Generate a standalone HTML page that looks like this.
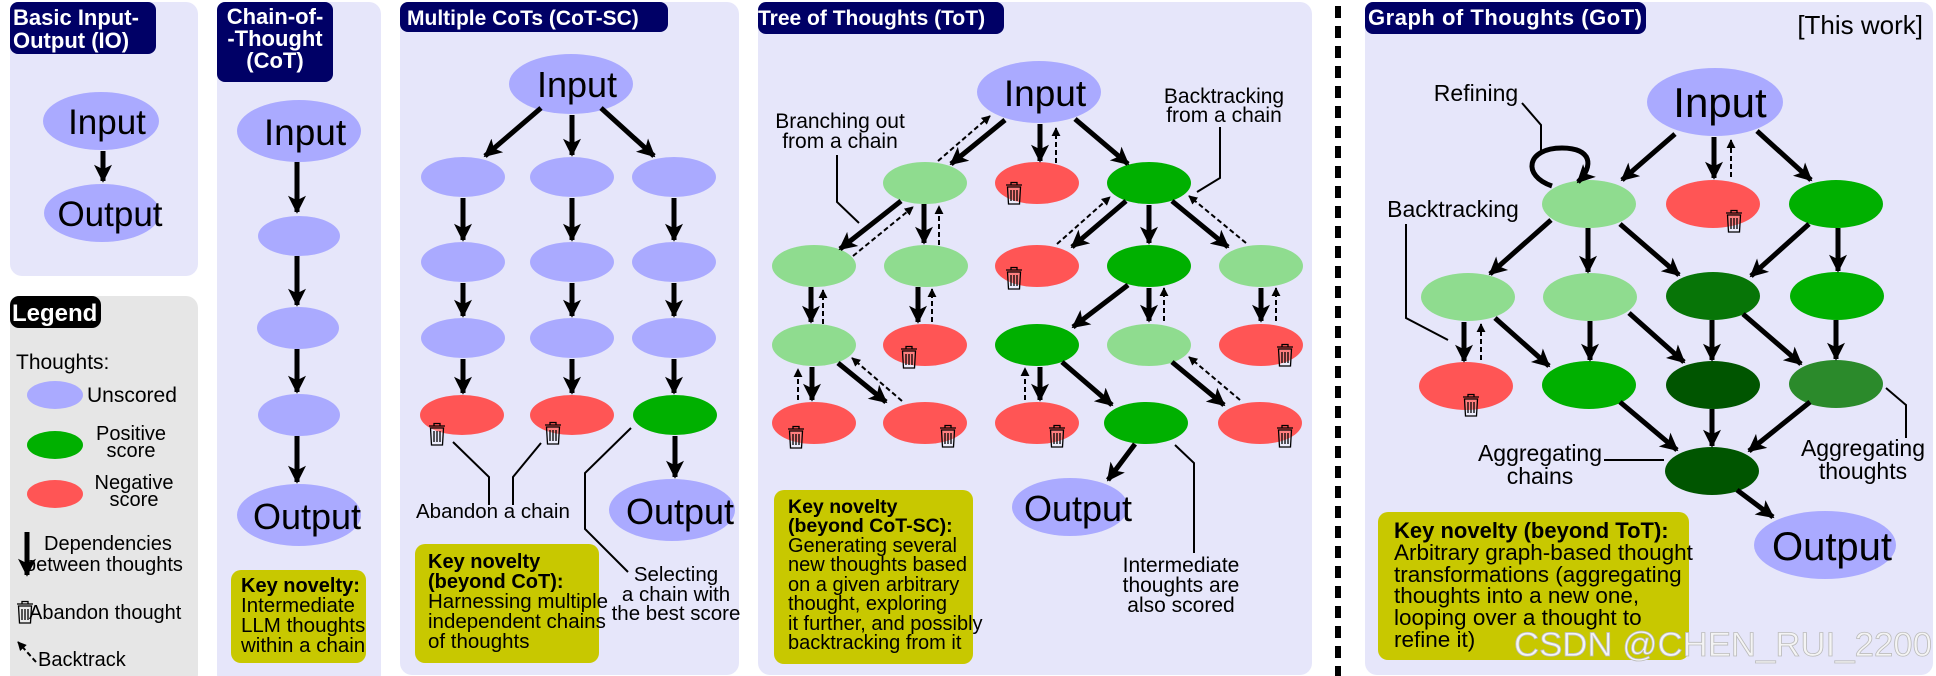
<!DOCTYPE html>
<html><head><meta charset="utf-8"><style>
html,body{margin:0;padding:0;background:#fff}
svg{display:block}
text{font-family:"Liberation Sans",sans-serif;fill:#000}
.s{stroke:#000;stroke-width:5;fill:none;marker-end:url(#ah)}
.b{stroke:#000;stroke-width:2;stroke-dasharray:5,3;fill:none;marker-end:url(#sh)}
.l{stroke:#000;stroke-width:2;fill:none}
.U{fill:#aaaaff}.LG{fill:#8fdc8f}.G{fill:#00b000}.R{fill:#ff5555}
.bold{font-weight:bold}
</style></head><body>
<svg width="1936" height="676" viewBox="0 0 1936 676" xmlns="http://www.w3.org/2000/svg">
<defs>
<marker id="ah" markerUnits="userSpaceOnUse" markerWidth="20" markerHeight="18" viewBox="0 0 10 10" refX="9" refY="5" orient="auto"><path d="M0,0 L10,5 L0,10 L2.5,5 z" fill="#000"/></marker>
<marker id="sh" markerUnits="userSpaceOnUse" markerWidth="9" markerHeight="9" viewBox="0 0 10 10" refX="9" refY="5" orient="auto"><path d="M0,0 L10,5 L0,10 z" fill="#000"/></marker>
<g id="tr" fill="none" stroke="#000" stroke-width="1.3"><path d="M-8,-8 H8 M-3,-8 V-10.5 H3 V-8"/><path d="M-6.5,-6 L-5.5,11 H5.5 L6.5,-6 z" fill="rgba(255,255,255,0.25)"/><path d="M-3,-3 V8 M0,-3 V8 M3,-3 V8"/></g>
</defs>

<!-- panels -->
<rect x="10" y="2" width="188" height="274" rx="12" fill="#e6e6fa"/>
<rect x="10" y="296" width="188" height="390" rx="12" fill="#e6e6e6"/>
<rect x="217" y="2" width="164" height="684" rx="12" fill="#e6e6fa"/>
<rect x="400" y="2" width="339" height="673" rx="12" fill="#e6e6fa"/>
<rect x="758" y="2" width="554" height="673" rx="12" fill="#e6e6fa"/>
<rect x="1365" y="2" width="568" height="673" rx="12" fill="#e6e6fa"/>
<line x1="1338" y1="6" x2="1338" y2="676" stroke="#000" stroke-width="6" stroke-dasharray="12,8"/>

<!-- titles -->
<rect x="10" y="2" width="146" height="52" rx="8" fill="#000066"/>
<text x="13" y="25" class="bold" font-size="22" style="fill:#fff">Basic Input-</text>
<text x="13" y="48" class="bold" font-size="22" style="fill:#fff">Output (IO)</text>
<rect x="217" y="2" width="116" height="80" rx="8" fill="#000066"/>
<text x="275" y="24" class="bold" font-size="22" text-anchor="middle" style="fill:#fff">Chain-of-</text>
<text x="275" y="46" class="bold" font-size="22" text-anchor="middle" style="fill:#fff">-Thought</text>
<text x="275" y="68" class="bold" font-size="22" text-anchor="middle" style="fill:#fff">(CoT)</text>
<rect x="400" y="2" width="268" height="30" rx="8" fill="#000066"/>
<text x="407" y="25" class="bold" font-size="21" style="fill:#fff">Multiple CoTs (CoT-SC)</text>
<rect x="758" y="2" width="246" height="32" rx="8" fill="#000066"/>
<text x="758" y="25" class="bold" font-size="21" style="fill:#fff">Tree of Thoughts (ToT)</text>
<rect x="1365" y="2" width="281" height="32" rx="8" fill="#000066"/>
<text x="1368" y="25" class="bold" font-size="22" style="fill:#fff" textLength="274">Graph of Thoughts (GoT)</text>
<text x="1923" y="34" font-size="26" text-anchor="end">[This work]</text>

<!-- IO -->
<ellipse cx="101" cy="121" rx="58" ry="29" class="U"/>
<text x="107" y="134" font-size="35" text-anchor="middle">Input</text>
<line x1="103" y1="151" x2="103" y2="181" class="s"/>
<ellipse cx="102" cy="213" rx="58" ry="29" class="U"/>
<text x="110" y="226" font-size="35" text-anchor="middle">Output</text>

<!-- Legend -->
<rect x="10" y="296" width="91" height="32" rx="9" fill="#000"/>
<text x="12" y="321" class="bold" font-size="24" style="fill:#fff">Legend</text>
<text x="16" y="369" font-size="21">Thoughts:</text>
<ellipse cx="55" cy="395" rx="28" ry="14" class="U"/>
<text x="87" y="402" font-size="21">Unscored</text>
<ellipse cx="55" cy="445" rx="28" ry="14" class="G"/>
<text x="131" y="440" font-size="20" text-anchor="middle">Positive</text>
<text x="131" y="457" font-size="20" text-anchor="middle">score</text>
<ellipse cx="55" cy="494" rx="28" ry="14" class="R"/>
<text x="134" y="489" font-size="20" text-anchor="middle">Negative</text>
<text x="134" y="506" font-size="20" text-anchor="middle">score</text>
<line x1="27" y1="532" x2="27" y2="575" class="s"/>
<text x="44" y="550" font-size="20">Dependencies</text>
<text x="25" y="571" font-size="20">between thoughts</text>
<use href="#tr" x="25" y="612"/>
<text x="29" y="619" font-size="20">Abandon thought</text>
<line x1="36" y1="662" x2="18" y2="642" class="b"/>
<text x="38" y="666" font-size="20">Backtrack</text>

<!-- CoT -->
<ellipse cx="299" cy="131" rx="62" ry="31" class="U"/>
<text x="305" y="145" font-size="37" text-anchor="middle">Input</text>
<line x1="297" y1="162" x2="297" y2="212" class="s"/>
<ellipse cx="299" cy="236" rx="41" ry="20" class="U"/>
<line x1="297" y1="256" x2="297" y2="305" class="s"/>
<ellipse cx="298" cy="328" rx="41" ry="21" class="U"/>
<line x1="297" y1="349" x2="297" y2="392" class="s"/>
<ellipse cx="299" cy="415" rx="41" ry="21" class="U"/>
<line x1="297" y1="436" x2="297" y2="482" class="s"/>
<ellipse cx="299" cy="515" rx="62" ry="31" class="U"/>
<text x="307" y="529" font-size="36" text-anchor="middle">Output</text>
<rect x="231" y="570" width="135" height="93" rx="10" fill="#c8c800"/>
<text x="241" y="592" class="bold" font-size="20">Key novelty:</text>
<text x="241" y="612" font-size="20.5">Intermediate</text>
<text x="241" y="632" font-size="20.5">LLM thoughts</text>
<text x="241" y="652" font-size="20.5">within a chain</text>

<!-- CoT-SC -->
<ellipse cx="571" cy="84" rx="62" ry="30" class="U"/>
<text x="577" y="97" font-size="36" text-anchor="middle">Input</text>
<line x1="541" y1="108" x2="485" y2="156" class="s"/>
<line x1="572" y1="115" x2="572" y2="155" class="s"/>
<line x1="601" y1="108" x2="654" y2="156" class="s"/>
<g class="U">
<ellipse cx="463" cy="177" rx="42" ry="20"/><ellipse cx="572" cy="177" rx="42" ry="20"/><ellipse cx="674" cy="177" rx="42" ry="20"/>
<ellipse cx="463" cy="262" rx="42" ry="20"/><ellipse cx="572" cy="262" rx="42" ry="20"/><ellipse cx="674" cy="262" rx="42" ry="20"/>
<ellipse cx="463" cy="338" rx="42" ry="20"/><ellipse cx="572" cy="338" rx="42" ry="20"/><ellipse cx="674" cy="338" rx="42" ry="20"/>
</g>
<ellipse cx="462" cy="415" rx="42" ry="20" class="R"/>
<ellipse cx="572" cy="415" rx="42" ry="20" class="R"/>
<ellipse cx="675" cy="415" rx="42" ry="20" class="G"/>
<g>
<line x1="463" y1="198" x2="463" y2="240" class="s"/><line x1="572" y1="198" x2="572" y2="240" class="s"/><line x1="674" y1="198" x2="674" y2="240" class="s"/>
<line x1="463" y1="283" x2="463" y2="316" class="s"/><line x1="572" y1="283" x2="572" y2="316" class="s"/><line x1="674" y1="283" x2="674" y2="316" class="s"/>
<line x1="463" y1="359" x2="463" y2="393" class="s"/><line x1="572" y1="359" x2="572" y2="393" class="s"/><line x1="674" y1="359" x2="674" y2="393" class="s"/>
<line x1="675" y1="436" x2="675" y2="477" class="s"/>
</g>
<use href="#tr" x="437" y="434"/><use href="#tr" x="553" y="433"/>
<ellipse cx="672" cy="510" rx="63" ry="31" class="U"/>
<text x="680" y="524" font-size="36" text-anchor="middle">Output</text>
<polyline points="453,442 489,477 489,505" class="l"/>
<polyline points="541,443 513,477 513,505" class="l"/>
<text x="416" y="518" font-size="20.5">Abandon a chain</text>
<polyline points="631,428 585,473 585,529 628,572" class="l"/>
<text x="676" y="581" font-size="20.5" text-anchor="middle">Selecting</text>
<text x="676" y="601" font-size="20.5" text-anchor="middle">a chain with</text>
<text x="676" y="620" font-size="20.5" text-anchor="middle">the best score</text>
<rect x="415" y="544" width="184" height="119" rx="10" fill="#c8c800"/>
<text x="428" y="568" class="bold" font-size="20">Key novelty</text>
<text x="428" y="588" class="bold" font-size="20">(beyond CoT):</text>
<text x="428" y="608" font-size="20.5">Harnessing multiple</text>
<text x="428" y="628" font-size="20.5">independent chains</text>
<text x="428" y="648" font-size="20.5">of thoughts</text>

<!-- ToT -->
<ellipse cx="1039" cy="92" rx="62" ry="31" class="U"/>
<text x="1045" y="106" font-size="37" text-anchor="middle">Input</text>
<ellipse cx="925" cy="183" rx="42" ry="21" class="LG"/>
<ellipse cx="1037" cy="183" rx="42" ry="21" class="R"/>
<ellipse cx="1149" cy="183" rx="42" ry="21" class="G"/>
<ellipse cx="814" cy="266" rx="42" ry="21" class="LG"/>
<ellipse cx="926" cy="266" rx="42" ry="21" class="LG"/>
<ellipse cx="1037" cy="266" rx="42" ry="21" class="R"/>
<ellipse cx="1149" cy="266" rx="42" ry="21" class="G"/>
<ellipse cx="1261" cy="266" rx="42" ry="21" class="LG"/>
<ellipse cx="814" cy="345" rx="42" ry="21" class="LG"/>
<ellipse cx="925" cy="345" rx="42" ry="21" class="R"/>
<ellipse cx="1037" cy="345" rx="42" ry="21" class="G"/>
<ellipse cx="1149" cy="345" rx="42" ry="21" class="LG"/>
<ellipse cx="1261" cy="345" rx="42" ry="21" class="R"/>
<ellipse cx="814" cy="423" rx="42" ry="21" class="R"/>
<ellipse cx="925" cy="423" rx="42" ry="21" class="R"/>
<ellipse cx="1037" cy="423" rx="42" ry="21" class="R"/>
<ellipse cx="1146" cy="423" rx="42" ry="21" class="G"/>
<ellipse cx="1260" cy="423" rx="42" ry="21" class="R"/>
<ellipse cx="1070" cy="507" rx="58" ry="29" class="U"/>
<text x="1078" y="521" font-size="36" text-anchor="middle">Output</text>
<!-- ToT edges -->
<line x1="1005" y1="120" x2="951" y2="164" class="s"/>
<line x1="938" y1="161" x2="990" y2="116" class="b"/>
<line x1="1040" y1="124" x2="1040" y2="161" class="s"/>
<line x1="1056" y1="163" x2="1056" y2="128" class="b"/>
<line x1="1075" y1="119" x2="1128" y2="164" class="s"/>
<line x1="901" y1="201" x2="840" y2="249" class="s"/>
<line x1="853" y1="256" x2="913" y2="207" class="b"/>
<line x1="924" y1="204" x2="924" y2="243" class="s"/>
<line x1="939" y1="245" x2="939" y2="206" class="b"/>
<line x1="811" y1="287" x2="811" y2="322" class="s"/>
<line x1="823" y1="324" x2="823" y2="290" class="b"/>
<line x1="918" y1="287" x2="918" y2="322" class="s"/>
<line x1="932" y1="322" x2="932" y2="289" class="b"/>
<line x1="1126" y1="201" x2="1072" y2="247" class="s"/>
<line x1="1057" y1="244" x2="1110" y2="197" class="b"/>
<line x1="1149" y1="205" x2="1149" y2="243" class="s"/>
<line x1="1172" y1="201" x2="1228" y2="247" class="s"/>
<line x1="1246" y1="243" x2="1189" y2="196" class="b"/>
<line x1="1128" y1="285" x2="1073" y2="327" class="s"/>
<line x1="1149" y1="288" x2="1149" y2="321" class="s"/>
<line x1="1164" y1="321" x2="1164" y2="288" class="b"/>
<line x1="1261" y1="288" x2="1261" y2="321" class="s"/>
<line x1="1276" y1="321" x2="1276" y2="288" class="b"/>
<line x1="812" y1="367" x2="812" y2="400" class="s"/>
<line x1="798" y1="400" x2="798" y2="369" class="b"/>
<line x1="838" y1="363" x2="886" y2="402" class="s"/>
<line x1="902" y1="401" x2="852" y2="358" class="b"/>
<line x1="1040" y1="367" x2="1040" y2="400" class="s"/>
<line x1="1025" y1="400" x2="1025" y2="368" class="b"/>
<line x1="1062" y1="362" x2="1112" y2="405" class="s"/>
<line x1="1172" y1="362" x2="1224" y2="405" class="s"/>
<line x1="1240" y1="400" x2="1189" y2="357" class="b"/>
<line x1="1135" y1="444" x2="1108" y2="480" class="s"/>
<use href="#tr" x="1014" y="193"/><use href="#tr" x="1014" y="278"/>
<use href="#tr" x="909" y="357"/><use href="#tr" x="1285" y="355"/>
<use href="#tr" x="796" y="437"/><use href="#tr" x="948" y="436"/>
<use href="#tr" x="1057" y="436"/><use href="#tr" x="1285" y="436"/>
<text x="840" y="128" font-size="21" text-anchor="middle">Branching out</text>
<text x="840" y="148" font-size="21" text-anchor="middle">from a chain</text>
<polyline points="837,155 837,202 859,223" class="l"/>
<text x="1224" y="103" font-size="21" text-anchor="middle">Backtracking</text>
<text x="1224" y="122" font-size="21" text-anchor="middle">from a chain</text>
<polyline points="1220,127 1220,178 1197,192" class="l"/>
<polyline points="1175,445 1194,463 1194,553" class="l"/>
<text x="1181" y="572" font-size="21" text-anchor="middle">Intermediate</text>
<text x="1181" y="592" font-size="21" text-anchor="middle">thoughts are</text>
<text x="1181" y="612" font-size="21" text-anchor="middle">also scored</text>
<rect x="774" y="490" width="199" height="174" rx="10" fill="#c8c800"/>
<text x="788" y="513" class="bold" font-size="19.5">Key novelty</text>
<text x="788" y="532" class="bold" font-size="19.5">(beyond CoT-SC):</text>
<text x="788" y="552" font-size="20">Generating several</text>
<text x="788" y="571" font-size="20">new thoughts based</text>
<text x="788" y="591" font-size="20">on a given arbitrary</text>
<text x="788" y="610" font-size="20">thought, exploring</text>
<text x="788" y="630" font-size="20">it further, and possibly</text>
<text x="788" y="649" font-size="20">backtracking from it</text>

<!-- GoT -->
<ellipse cx="1715" cy="102" rx="68" ry="34" class="U"/>
<text x="1720" y="117" font-size="42" text-anchor="middle">Input</text>
<ellipse cx="1589" cy="204" rx="47" ry="24" class="LG"/>
<ellipse cx="1713" cy="204" rx="47" ry="24" class="R"/>
<ellipse cx="1836" cy="204" rx="47" ry="24" class="G"/>
<ellipse cx="1468" cy="297" rx="47" ry="24" class="LG"/>
<ellipse cx="1590" cy="297" rx="47" ry="24" class="LG"/>
<ellipse cx="1713" cy="296" rx="47" ry="24" fill="#077507"/>
<ellipse cx="1837" cy="296" rx="47" ry="24" class="G"/>
<ellipse cx="1466" cy="386" rx="47" ry="24" class="R"/>
<ellipse cx="1589" cy="385" rx="47" ry="24" class="G"/>
<ellipse cx="1713" cy="385" rx="47" ry="24" fill="#005500"/>
<ellipse cx="1836" cy="384" rx="47" ry="24" fill="#2b8a2b"/>
<ellipse cx="1712" cy="471" rx="47" ry="24" fill="#005500"/>
<ellipse cx="1825" cy="545" rx="71" ry="34" class="U"/>
<text x="1832" y="560" font-size="40" text-anchor="middle">Output</text>
<line x1="1675" y1="134" x2="1622" y2="180" class="s"/>
<line x1="1714" y1="137" x2="1714" y2="178" class="s"/>
<line x1="1731" y1="177" x2="1731" y2="140" class="b"/>
<line x1="1757" y1="131" x2="1811" y2="180" class="s"/>
<path d="M1552,186 C1522,176 1526,148 1562,148 C1592,148 1594,166 1578,182" class="s"/>
<line x1="1551" y1="220" x2="1490" y2="274" class="s"/>
<line x1="1588" y1="228" x2="1588" y2="272" class="s"/>
<line x1="1620" y1="224" x2="1679" y2="275" class="s"/>
<line x1="1809" y1="224" x2="1751" y2="276" class="s"/>
<line x1="1838" y1="228" x2="1838" y2="271" class="s"/>
<line x1="1464" y1="322" x2="1464" y2="361" class="s"/>
<line x1="1481" y1="360" x2="1481" y2="324" class="b"/>
<line x1="1495" y1="318" x2="1549" y2="366" class="s"/>
<line x1="1590" y1="321" x2="1590" y2="360" class="s"/>
<line x1="1629" y1="313" x2="1684" y2="362" class="s"/>
<line x1="1712" y1="320" x2="1712" y2="360" class="s"/>
<line x1="1743" y1="314" x2="1801" y2="364" class="s"/>
<line x1="1836" y1="320" x2="1836" y2="359" class="s"/>
<line x1="1620" y1="402" x2="1677" y2="450" class="s"/>
<line x1="1712" y1="409" x2="1712" y2="446" class="s"/>
<line x1="1810" y1="402" x2="1749" y2="451" class="s"/>
<line x1="1737" y1="490" x2="1773" y2="517" class="s"/>
<use href="#tr" x="1734" y="221"/><use href="#tr" x="1471" y="405"/>
<text x="1476" y="101" font-size="23" text-anchor="middle">Refining</text>
<polyline points="1522,103 1541,125 1541,155" class="l"/>
<text x="1453" y="217" font-size="23" text-anchor="middle">Backtracking</text>
<polyline points="1406,224 1406,318 1448,340" class="l"/>
<text x="1540" y="461" font-size="23" text-anchor="middle">Aggregating</text>
<text x="1540" y="484" font-size="23" text-anchor="middle">chains</text>
<line x1="1604" y1="460" x2="1664" y2="460" class="l"/>
<text x="1863" y="456" font-size="23" text-anchor="middle">Aggregating</text>
<text x="1863" y="479" font-size="23" text-anchor="middle">thoughts</text>
<polyline points="1886,388 1906,405 1906,438" class="l"/>
<rect x="1378" y="512" width="311" height="148" rx="10" fill="#c8c800"/>
<text x="1394" y="538" class="bold" font-size="22">Key novelty (beyond ToT):</text>
<text x="1394" y="560" font-size="22.5">Arbitrary graph-based thought</text>
<text x="1394" y="582" font-size="22.5">transformations (aggregating</text>
<text x="1394" y="603" font-size="22.5">thoughts into a new one,</text>
<text x="1394" y="625" font-size="22.5">looping over a thought to</text>
<text x="1394" y="647" font-size="22.5">refine it)</text>
<text x="1514" y="656" font-size="34" textLength="418" lengthAdjust="spacingAndGlyphs" style="fill:#f4f4f4;stroke:#bbb;stroke-width:0.8">CSDN @CHEN_RUI_2200</text>
</svg>
</body></html>
